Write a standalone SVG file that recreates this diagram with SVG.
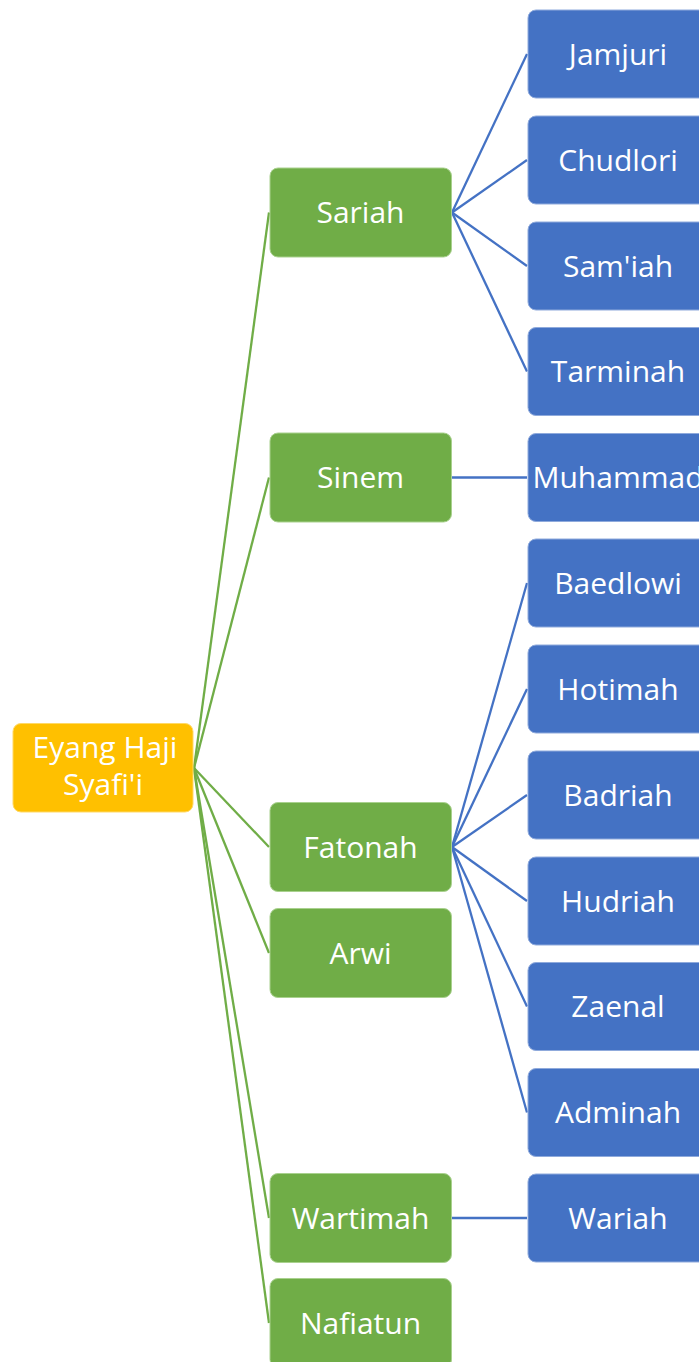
<svg xmlns="http://www.w3.org/2000/svg" width="699" height="1362" viewBox="0 0 699 1362">
<style>
.root{fill:#FFC000;stroke:#FFD966;stroke-width:1}
.g{fill:#70AD47;stroke:#A9D18E;stroke-width:1}
.b{fill:#4472C4;stroke:#8FAADC;stroke-width:1}
.t{font-family:"Open Sans","Noto Sans",sans-serif;font-size:30px;fill:#FFFFFF;text-anchor:middle}
.cg{stroke:#70AD47;stroke-width:2.3;fill:none}
.cb{stroke:#4472C4;stroke-width:2.3;fill:none}
</style>
<rect width="699" height="1362" fill="#FFFFFF"/>
<g id="connectors">
<line class="cg" x1="194" y1="768" x2="269" y2="212.5"/>
<line class="cg" x1="194" y1="768" x2="269" y2="477.5"/>
<line class="cg" x1="194" y1="768" x2="269" y2="847"/>
<line class="cg" x1="194" y1="768" x2="269" y2="953"/>
<line class="cg" x1="194" y1="768" x2="269" y2="1218"/>
<line class="cg" x1="194" y1="768" x2="269" y2="1323"/>
<line class="cb" x1="452" y1="212.5" x2="527" y2="54"/>
<line class="cb" x1="452" y1="212.5" x2="527" y2="160"/>
<line class="cb" x1="452" y1="212.5" x2="527" y2="266"/>
<line class="cb" x1="452" y1="212.5" x2="527" y2="371.5"/>
<line class="cb" x1="452" y1="477.5" x2="527" y2="477.5"/>
<line class="cb" x1="452" y1="847" x2="527" y2="583"/>
<line class="cb" x1="452" y1="847" x2="527" y2="689"/>
<line class="cb" x1="452" y1="847" x2="527" y2="795"/>
<line class="cb" x1="452" y1="847" x2="527" y2="901"/>
<line class="cb" x1="452" y1="847" x2="527" y2="1006.5"/>
<line class="cb" x1="452" y1="847" x2="527" y2="1112.5"/>
<line class="cb" x1="452" y1="1218" x2="527" y2="1218"/>
</g>
<g id="root"><rect class="root" x="13" y="723.5" width="180" height="88.5" rx="8"/><text class="t" x="105" y="758">Eyang Haji</text><text class="t" x="103" y="795">Syafi'i</text></g>
<g id="sariah"><rect class="g" x="270" y="168" width="181.5" height="89" rx="8"/><text class="t" x="360.5" y="223">Sariah</text></g>
<g id="sinem"><rect class="g" x="270" y="433" width="181.5" height="89" rx="8"/><text class="t" x="360.5" y="488">Sinem</text></g>
<g id="fatonah"><rect class="g" x="270" y="802.5" width="181.5" height="89" rx="8"/><text class="t" x="360.5" y="857.5">Fatonah</text></g>
<g id="arwi"><rect class="g" x="270" y="908.5" width="181.5" height="89" rx="8"/><text class="t" x="360.5" y="963.5">Arwi</text></g>
<g id="wartimah"><rect class="g" x="270" y="1173.5" width="181.5" height="89" rx="8"/><text class="t" x="360.5" y="1228.5">Wartimah</text></g>
<g id="nafiatun"><rect class="g" x="270" y="1278.5" width="181.5" height="89" rx="8"/><text class="t" x="360.5" y="1333.5">Nafiatun</text></g>
<g id="jamjuri"><rect class="b" x="528" y="10" width="181" height="88" rx="8"/><text class="t" x="618" y="64.5">Jamjuri</text></g>
<g id="chudlori"><rect class="b" x="528" y="116" width="181" height="88" rx="8"/><text class="t" x="618" y="170.5">Chudlori</text></g>
<g id="samiah"><rect class="b" x="528" y="222" width="181" height="88" rx="8"/><text class="t" x="618" y="276.5">Sam'iah</text></g>
<g id="tarminah"><rect class="b" x="528" y="327.5" width="181" height="88" rx="8"/><text class="t" x="618" y="382">Tarminah</text></g>
<g id="muhammad"><rect class="b" x="528" y="433.5" width="181" height="88" rx="8"/><text class="t" x="618" y="488">Muhammad</text></g>
<g id="baedlowi"><rect class="b" x="528" y="539" width="181" height="88" rx="8"/><text class="t" x="618" y="593.5">Baedlowi</text></g>
<g id="hotimah"><rect class="b" x="528" y="645" width="181" height="88" rx="8"/><text class="t" x="618" y="699.5">Hotimah</text></g>
<g id="badriah"><rect class="b" x="528" y="751" width="181" height="88" rx="8"/><text class="t" x="618" y="805.5">Badriah</text></g>
<g id="hudriah"><rect class="b" x="528" y="857" width="181" height="88" rx="8"/><text class="t" x="618" y="911.5">Hudriah</text></g>
<g id="zaenal"><rect class="b" x="528" y="962.5" width="181" height="88" rx="8"/><text class="t" x="618" y="1017">Zaenal</text></g>
<g id="adminah"><rect class="b" x="528" y="1068.5" width="181" height="88" rx="8"/><text class="t" x="618" y="1123">Adminah</text></g>
<g id="wariah"><rect class="b" x="528" y="1174" width="181" height="88" rx="8"/><text class="t" x="618" y="1228.5">Wariah</text></g>
</svg>
